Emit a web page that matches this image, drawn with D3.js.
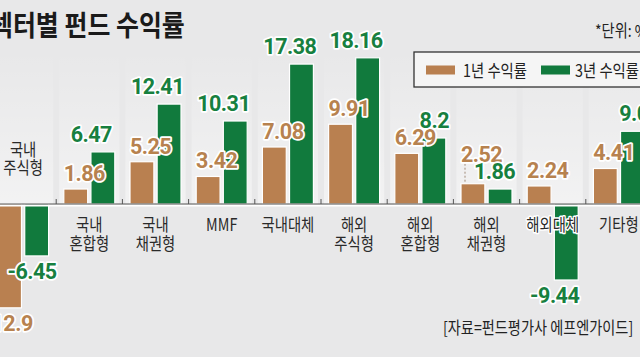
<!DOCTYPE html>
<html><head><meta charset="utf-8">
<script src="https://cdn.jsdelivr.net/npm/d3@7"></script>
<style>html,body{margin:0;padding:0;background:#e8e8e9;}svg{display:block}</style>
</head><body><svg id="c" width="640" height="360"></svg>
<script>
// ---- data ----
const categories = ["국내 주식형","국내 혼합형","국내 채권형","MMF","국내대체","해외 주식형","해외 혼합형","해외 채권형","해외대체","기타형"];
const oneYear   = [-12.9, 1.86, 5.25, 3.42, 7.08, 9.91, 6.29, 2.52, 2.24, 4.41];
const threeYear = [-6.45, 6.47, 12.41, 10.31, 17.38, 18.16, 8.2, 1.86, -9.44, 9.03];
const seriesNames = ["1년 수익률","3년 수익률"];
const titleText = "섹터별 펀드 수익률";
const unitText = "*단위: %";
const sourceText = "[자료=펀드평가사 에프엔가이드]";

// ---- layout / style ----
const W = 640, H = 360;
const bg = "#e8e8e9";
const barColor = {one:"#b98050", three:"#117a3d"};
const labelColor = {one:"#b7824f", three:"#17803f"};
const KR = "'Noto Sans CJK KR','Noto Sans',sans-serif";
const NUM = "Roboto,'Noto Sans',sans-serif";

const svg = d3.select("#c");
svg.append("rect").attr("width",W).attr("height",H).attr("fill",bg);
svg.append("rect").attr("y",357).attr("width",W).attr("height",3).attr("fill","#ffffff");

const x = d3.scaleBand().domain(categories).range([-10, 652]).padding(0);
const keys = ["one","three"];
const groupW = 51;
const inner = d3.scaleBand().domain(keys).range([0, groupW]).paddingInner(0.12);
const off = (x.bandwidth() - groupW) / 2;
const y = d3.scaleLinear().domain([-15, 20]).range([204 + 15*8.05, 204 - 20*8.05]);
const y0 = y(0);

// background column bands
const defs = svg.append("defs");
const grad = defs.append("linearGradient").attr("id","band").attr("x1",0).attr("x2",0).attr("y1",0).attr("y2",1);
grad.append("stop").attr("offset","0%").attr("stop-color","#ffffff").attr("stop-opacity",0);
grad.append("stop").attr("offset","100%").attr("stop-color","#ffffff").attr("stop-opacity",0.45);
svg.append("g").selectAll("rect").data(categories).join("rect")
  .attr("x", d => x(d) + 3).attr("width", x.bandwidth() - 6)
  .attr("y", 50).attr("height", y0 - 50).attr("fill","url(#band)");

function ktext(parent, str, tx, ty, size, o = {}) {
  const t = parent.append("text")
    .attr("transform", `translate(${tx},${ty}) scale(${o.sx || 0.88},1)`)
    .attr("font-family", o.family || KR)
    .attr("font-size", size)
    .attr("font-weight", o.weight || 400)
    .attr("fill", o.fill || "#222")
    .attr("text-anchor", o.anchor || "start")
    .text(str);
  if (o.halo) t.attr("stroke","#fff").attr("stroke-width",o.halo).attr("paint-order","stroke").attr("stroke-linejoin","round");
  return t;
}

// title / notes
ktext(svg, titleText, -10, 36, 28.5, {weight:700, fill:"#1a1a1a", sx:0.875});
ktext(svg, unitText, 595, 37, 16.5, {fill:"#222", sx:0.86});
ktext(svg, sourceText, 443, 334, 16.5, {fill:"#222", sx:0.86});

// legend
const lg = svg.append("g");
lg.append("rect").attr("x",414).attr("y",52).attr("width",240).attr("height",35)
  .attr("fill","#f5f5f5").attr("stroke","#333").attr("stroke-width",1.3);
[["one",426,463],["three",541,575]].forEach(([k,sx,tx],i) => {
  lg.append("rect").attr("x",sx).attr("y",65.5).attr("width",29).attr("height",9).attr("fill",barColor[k]);
  ktext(lg, seriesNames[i], tx, 77, 17.5, {fill:"#222", sx:0.82});
});

// bars
const rows = categories.map((c,i) => ({cat:c, one:oneYear[i], three:threeYear[i]}));
const bars = svg.append("g");
rows.forEach(r => {
  keys.forEach(k => {
    const v = r[k];
    bars.append("rect")
      .attr("x", x(r.cat) + off + inner(k))
      .attr("width", inner.bandwidth())
      .attr("y", Math.min(y(v), y0))
      .attr("height", Math.abs(y(v) - y0))
      .attr("fill", barColor[k])
      .attr("stroke","#ffffff").attr("stroke-width",1.2);
  });
});

// axis
const axisG = svg.append("g");
axisG.append("line").attr("x1",0).attr("x2",W).attr("y1",y0+1.5).attr("y2",y0+1.5).attr("stroke","#fff").attr("stroke-width",2);
axisG.append("line").attr("x1",0).attr("x2",W).attr("y1",y0).attr("y2",y0).attr("stroke","#555").attr("stroke-width",1.2);
categories.slice(1).forEach(c => {
  axisG.append("line").attr("x1",x(c)).attr("x2",x(c)).attr("y1",y0-5).attr("y2",y0).attr("stroke","#555").attr("stroke-width",1);
});

// category labels
const catG = svg.append("g");
rows.forEach(r => {
  const lines = r.cat.split(" ");
  const cx = x(r.cat) + x.bandwidth()/2;
  const allNeg = r.one < 0 && r.three < 0;
  const anyNeg = r.one < 0 || r.three < 0;
  lines.forEach((ln, j) => {
    ktext(catG, ln, cx, (allNeg ? y0 - 30 - (lines.length-1-j)*18.5 : y0 + 27 + j*18.5), 17.5,
      {anchor:"middle", fill:"#2a2a2a", sx:0.82, halo: (!allNeg && anyNeg) ? 3 : 0});
  });
});

// value labels (label nudges for overlapping cases)
const nudge = {
  "국내 주식형": {one:{dx:-10}, three:{dx:7}},
  "해외 혼합형": {three:{dx:12}},
  "해외 채권형": {one:{dy:-14, leader:true}, three:{dx:6}},
  "기타형": {three:{dx:19}}
};
const valG = svg.append("g");
rows.forEach(r => {
  const cx = x(r.cat) + x.bandwidth()/2;
  keys.forEach(k => {
    const v = r[k];
    const n = (nudge[r.cat] && nudge[r.cat][k]) || {};
    const baseX = cx + (k === "one" ? -5 : 2) + (n.dx || 0);
    let ty = v >= 0 ? y(v) - (k === "one" ? 8 : 10) : y(v) + 23;
    ty += (n.dy || 0);
    if (n.leader) {
      const bx = x(r.cat) + off + inner(k) + 4;
      valG.append("line").attr("x1",bx).attr("x2",bx).attr("y1",ty+2).attr("y2",y(v)-1)
        .attr("stroke","#a08a78").attr("stroke-width",1).attr("stroke-dasharray","2,2");
    }
    valG.append("text")
      .attr("x", baseX).attr("y", ty)
      .attr("text-anchor","middle")
      .attr("font-family", NUM).attr("font-weight",700).attr("font-size",21.5)
      .attr("letter-spacing","-0.5")
      .attr("fill", labelColor[k])
      .attr("stroke","#fff").attr("stroke-width",3.5).attr("paint-order","stroke").attr("stroke-linejoin","round")
      .text(String(v));
  });
});
</script></body></html>
